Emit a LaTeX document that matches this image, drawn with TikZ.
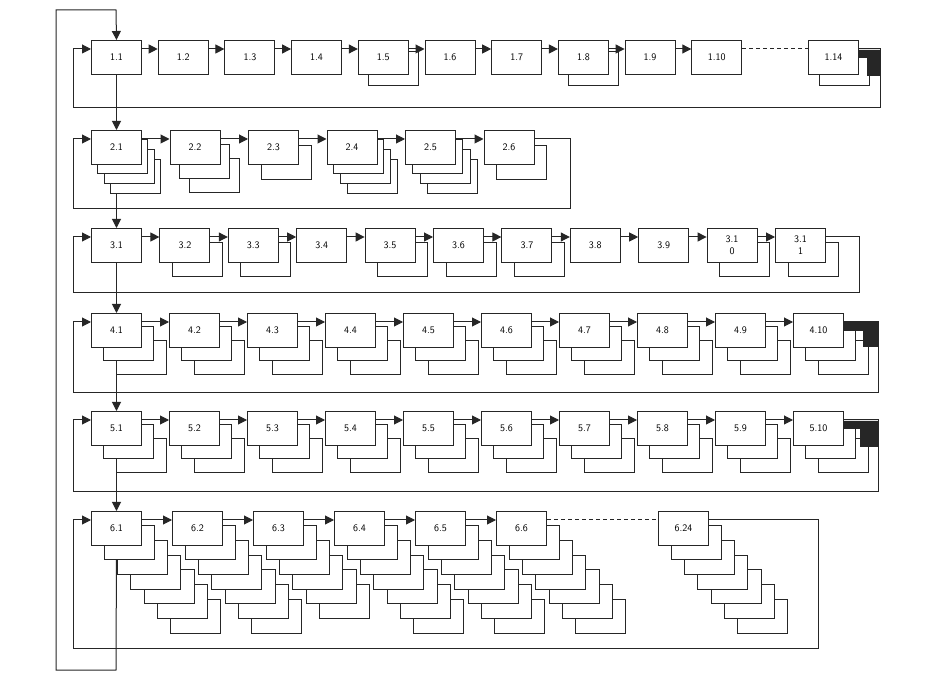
\documentclass[tikz,border=0pt]{standalone}
\usepackage{tikz}
\usetikzlibrary{arrows.meta,backgrounds}

\tikzset{
  ink/.style={black!85},
  blk/.style={draw=black!85, line width=1pt, fill=white, minimum width=50pt,
    minimum height=34pt, inner sep=0pt, anchor=north west, align=center,
    font=\normalsize\sffamily},
  cpy/.style={draw=black!85, line width=1pt, fill=white},
  lnk/.style={draw=black!85, line width=1pt},
  arr/.style={lnk, -{Triangle[length=9pt,width=9pt]}},
  dsh/.style={lnk, dash pattern=on 4pt off 3pt}
}

% box with its copies stacked behind it
\newcommand{\stk}[7]{%
  \ifnum#5>0
    \foreach \k in {#5,...,1}
      \draw[cpy] ({#2+\k*#6},{#3+\k*#7}) rectangle ++(50,34);
  \fi
  \node[blk] (#1) at (#2,#3) {#4};
}

\begin{document}
\begin{tikzpicture}[x=1pt,y=-1pt]
 \useasboundingbox (0,0) rectangle (930,684);

 % row 1
 \foreach \i/\n in {1/0,2/0,3/0,4/0,5/1,6/0,7/0,8/1,9/0,10/0}{
   \pgfmathsetmacro\xx{91+66.7*(\i-1)}
   \stk{n1-\i}{\xx}{40}{1.\i}{\n}{11}{12}
 }
 \stk{n1-14}{808}{40}{1.14}{1}{11}{12}

 % row 2
 \foreach \i/\n/\sx/\sy in {1/3/6.5/9.7,2/2/10/14.5,3/1/13/16,4/3/7/9.7,5/3/7.5/9.7,6/1/13/16}{
   \pgfmathsetmacro\xx{91+78.5*(\i-1)}
   \stk{n2-\i}{\xx}{130}{2.\i}{\n}{\sx}{\sy}
 }

 % row 3
 \foreach \i/\n in {1/0,2/1,3/1,4/0,5/1,6/1,7/1,8/0,9/0}{
   \pgfmathsetmacro\xx{91+68.4*(\i-1)}
   \stk{n3-\i}{\xx}{228}{3.\i}{\n}{13}{15}
 }
 \stk{n3-10}{706.6}{228}{3.1\\0}{1}{13}{15}
 \stk{n3-11}{775}{228}{3.1\\1}{1}{13}{15}

 % rows 4 and 5
 \foreach \r/\yy in {4/313,5/411}
   \foreach \i in {1,...,10}{
     \pgfmathsetmacro\xx{91+78*(\i-1)}
     \stk{n\r-\i}{\xx}{\yy}{\r.\i}{2}{12.5}{14}
   }

 % row 6
 \foreach \i/\n in {1/6,2/6,3/5,4/6,5/6,6/6}{
   \pgfmathsetmacro\xx{91+81*(\i-1)}
   \stk{n6-\i}{\xx}{511}{6.\i}{\n}{13.3}{14.7}
 }
 \stk{n6-24}{658}{511}{6.24}{6}{13.3}{14.7}

 % links along each row
 \foreach \r/\m in {1/10,2/6,3/11,4/10,5/10,6/6}
   \foreach \i in {2,...,\m}{
     \pgfmathtruncatemacro\hh{\i-1}
     \draw[arr] ([yshift=-9pt]n\r-\hh.north east) -- ([yshift=-9pt]n\r-\i.north west);
   }
 \draw[dsh] ([yshift=-9pt]n1-10.north east) -- ([yshift=-9pt]n1-14.north west);
 \draw[dsh] ([yshift=-9pt]n6-6.north east) -- ([yshift=-9pt]n6-24.north west);

 % dark ends
 \fill[ink] (858,50) -- (880,50) -- (880,76) -- (867,76) -- (867,58) -- (858,58) -- cycle;
 \fill[ink] (843,322) -- (878,322) -- (878,347) -- (863,347) -- (863,331) -- (843,331) -- cycle;
 \fill[ink] (843,421) -- (878,421) -- (878,447) -- (860,447) -- (860,429) -- (843,429) -- cycle;

 % row loops
 \foreach \r/\m/\xr/\yr in {1/14/880/108,2/6/570/209,3/11/859/293,4/10/878/393,5/10/878/492,6/24/818/648}{
   \coordinate (ra\r) at (\xr,\yr);
   \coordinate (rb\r) at (73,\yr);
   \draw[arr] ([yshift=-9pt]n\r-\m.north east) -| (ra\r) -- (rb\r) |- ([yshift=-9pt]n\r-1.north west);
 }

 % spine
 \begin{scope}[on background layer]
  \fill[white] (0,0) rectangle (930,684);
  \coordinate (s1) at (116,10);
  \coordinate (s2) at (56,10);
  \coordinate (s3) at (56,670);
  \coordinate (s4) at (116,670);
  \draw[arr] (n6-1.south) -- (s4) -- (s3) -- (s2) -- (s1) -- (n1-1.north);
  \foreach \r in {1,...,5}{
    \pgfmathtruncatemacro\qq{\r+1}
    \draw[arr] (n\r-1.south) -- (n\qq-1.north);
  }
 \end{scope}
\end{tikzpicture}
\end{document}
